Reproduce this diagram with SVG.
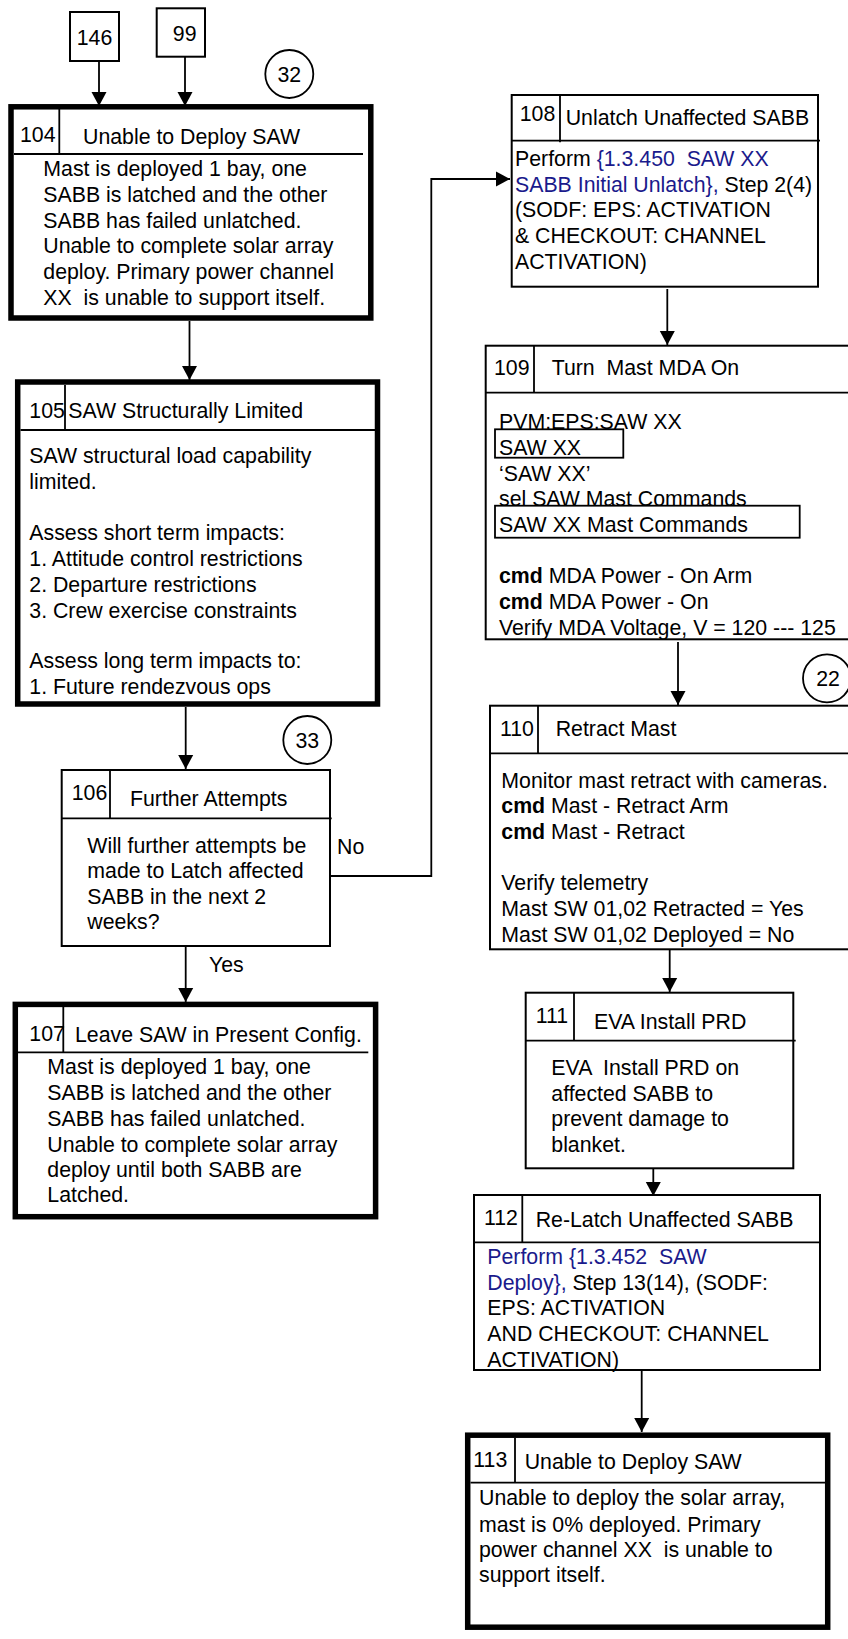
<svg xmlns="http://www.w3.org/2000/svg" width="848" height="1639" viewBox="0 0 848 1639">
<style>
text{font-family:"Liberation Sans",Arial,sans-serif;font-size:21.3px;fill:#000;white-space:pre}
.b{font-weight:bold}
.blue{fill:#1a1a8c}
.thin{fill:#fff;stroke:#000;stroke-width:2}
.thick{fill:#fff;stroke:#000;stroke-width:5.5}
.ln{fill:none;stroke:#000;stroke-width:1.8}
.con{fill:none;stroke:#000;stroke-width:1.8}
</style>
<defs>
<marker id="ah" markerWidth="16" markerHeight="16" refX="14" refY="8" orient="auto" markerUnits="userSpaceOnUse">
<path d="M0,0.5 L14,8 L0,15.5 z" fill="#000"/>
</marker>
</defs>
<rect width="848" height="1639" fill="#fff"/>

<g id="connectors">
<path class="con" d="M99,61 V106" marker-end="url(#ah)"/>
<path class="con" d="M185,57 V106" marker-end="url(#ah)"/>
<path class="con" d="M189.5,321 V380" marker-end="url(#ah)"/>
<path class="con" d="M185.7,707 V769" marker-end="url(#ah)"/>
<path class="con" d="M185.7,946 V1002" marker-end="url(#ah)"/>
<path class="con" d="M330,876 H431.3 V179 H510" marker-end="url(#ah)"/>
<path class="con" d="M667.3,289 V345" marker-end="url(#ah)"/>
<path class="con" d="M678,642 V705" marker-end="url(#ah)"/>
<path class="con" d="M669.7,950 V992" marker-end="url(#ah)"/>
<path class="con" d="M653.3,1169 V1196" marker-end="url(#ah)"/>
<path class="con" d="M641.7,1371 V1432" marker-end="url(#ah)"/>
<text x="337" y="854">No</text>
<text x="209" y="972">Yes</text>
</g>

<g id="ref146">
<rect class="thin" x="70" y="12" width="49" height="49"/>
<text x="94.5" y="45" text-anchor="middle">146</text>
</g>
<g id="ref99">
<rect class="thin" x="156.7" y="8.3" width="48.3" height="48.4"/>
<text x="184.7" y="40.7" text-anchor="middle">99</text>
</g>
<g id="c32">
<circle cx="289.3" cy="74" r="24" fill="#fff" stroke="#000" stroke-width="1.8"/>
<text x="289.3" y="81.5" text-anchor="middle">32</text>
</g>
<g id="c33">
<circle cx="307.3" cy="740" r="24" fill="#fff" stroke="#000" stroke-width="1.8"/>
<text x="307.3" y="747.5" text-anchor="middle">33</text>
</g>
<g id="c22">
<circle cx="827" cy="678.3" r="24" fill="#fff" stroke="#000" stroke-width="1.8"/>
<text x="828" y="685.5" text-anchor="middle">22</text>
</g>

<g id="n104">
<rect class="thick" x="11" y="106.8" width="359.8" height="211.2"/>
<path class="ln" d="M59.3,109 V154 M14,154 H363"/>
<text x="20" y="141.7">104</text>
<text x="83" y="144">Unable to Deploy SAW</text>
<text x="43.3" y="176">Mast is deployed 1 bay, one</text>
<text x="43.3" y="201.7">SABB is latched and the other</text>
<text x="43.3" y="227.5">SABB has failed unlatched.</text>
<text x="43.3" y="253.3">Unable to complete solar array</text>
<text x="43.3" y="279.2">deploy. Primary power channel</text>
<text x="43.3" y="305">XX  is unable to support itself.</text>
</g>

<g id="n105">
<rect class="thick" x="17.7" y="382" width="359.8" height="322"/>
<path class="ln" d="M65,385 V430 M20.5,430 H375"/>
<text x="29.3" y="417.7">105</text>
<text x="68.3" y="417.7">SAW Structurally Limited</text>
<text x="29.3" y="463.3">SAW structural load capability</text>
<text x="29.3" y="489">limited.</text>
<text x="29.3" y="540.4">Assess short term impacts:</text>
<text x="29.3" y="566.1">1. Attitude control restrictions</text>
<text x="29.3" y="591.8">2. Departure restrictions</text>
<text x="29.3" y="617.5">3. Crew exercise constraints</text>
<text x="29.3" y="668.2">Assess long term impacts to:</text>
<text x="29.3" y="693.5">1. Future rendezvous ops</text>
</g>

<g id="n106">
<rect class="thin" x="61.7" y="770" width="268.3" height="176"/>
<path class="ln" d="M110,770 V818.3 M61.7,818.3 H331.7"/>
<text x="71.7" y="800">106</text>
<text x="130" y="805.7">Further Attempts</text>
<text x="87.3" y="852.7">Will further attempts be</text>
<text x="87.3" y="878.3">made to Latch affected</text>
<text x="87.3" y="904">SABB in the next 2</text>
<text x="87.3" y="929.3">weeks?</text>
</g>

<g id="n107">
<rect class="thick" x="15.3" y="1004.4" width="360.3" height="212.3"/>
<path class="ln" d="M63.3,1007 V1052.3 M18,1052.3 H368.3"/>
<text x="29.3" y="1040.7">107</text>
<text x="75" y="1042.3">Leave SAW in Present Config.</text>
<text x="47.3" y="1074.3">Mast is deployed 1 bay, one</text>
<text x="47.3" y="1100">SABB is latched and the other</text>
<text x="47.3" y="1125.7">SABB has failed unlatched.</text>
<text x="47.3" y="1151.5">Unable to complete solar array</text>
<text x="47.3" y="1176.9">deploy until both SABB are</text>
<text x="47.3" y="1202.3">Latched.</text>
</g>

<g id="n108">
<rect class="thin" x="511.7" y="95" width="306.3" height="191.7"/>
<path class="ln" d="M560,95 V142.3 M511.7,140.7 H820"/>
<text x="519.7" y="120.7">108</text>
<text x="565.7" y="125">Unlatch Unaffected SABB</text>
<text x="515" y="166">Perform <tspan class="blue">{1.3.450  SAW XX</tspan></text>
<text x="515" y="191.7"><tspan class="blue">SABB Initial Unlatch},</tspan> Step 2(4)</text>
<text x="515" y="217.3">(SODF: EPS: ACTIVATION</text>
<text x="515" y="243.3">&amp; CHECKOUT: CHANNEL</text>
<text x="515" y="269.3">ACTIVATION)</text>
</g>

<g id="n109">
<rect class="thin" x="485.7" y="345.7" width="370" height="293.6"/>
<path class="ln" d="M534,345.7 V392.7 M485.7,392.7 H850"/>
<text x="494" y="375">109</text>
<text x="551.7" y="375">Turn  Mast MDA On</text>
<text x="499" y="429.3">PVM:EPS:SAW XX</text>
<rect x="495" y="429.3" width="128.3" height="28.4" fill="none" stroke="#000" stroke-width="1.8"/>
<text x="499" y="455">SAW XX</text>
<text x="499" y="480.7">‘SAW XX’</text>
<text x="499" y="506">sel SAW Mast Commands</text>
<rect x="495" y="505.7" width="304.7" height="32" fill="#fff" stroke="#000" stroke-width="1.8"/>
<text x="499" y="532.3">SAW XX Mast Commands</text>
<text x="499" y="583.3"><tspan class="b">cmd</tspan> MDA Power - On Arm</text>
<text x="499" y="609.3"><tspan class="b">cmd</tspan> MDA Power - On</text>
<text x="499" y="635">Verify MDA Voltage, V = 120 --- 125</text>
</g>

<g id="n110">
<rect class="thin" x="490" y="705.7" width="370" height="243.6"/>
<path class="ln" d="M538,705.7 V753.3 M490,753.3 H850"/>
<text x="500" y="736">110</text>
<text x="555.7" y="736">Retract Mast</text>
<text x="501.3" y="787.7">Monitor mast retract with cameras.</text>
<text x="501.3" y="813.3"><tspan class="b">cmd</tspan> Mast - Retract Arm</text>
<text x="501.3" y="839.3"><tspan class="b">cmd</tspan> Mast - Retract</text>
<text x="501.3" y="890">Verify telemetry</text>
<text x="501.3" y="916">Mast SW 01,02 Retracted = Yes</text>
<text x="501.3" y="941.7">Mast SW 01,02 Deployed = No</text>
</g>

<g id="n111">
<rect class="thin" x="525.7" y="992.7" width="267.6" height="175.6"/>
<path class="ln" d="M574,992.7 V1040.7 M525.7,1040.7 H795.7"/>
<text x="535.7" y="1023.3">111</text>
<text x="594" y="1029">EVA Install PRD</text>
<text x="551.3" y="1075">EVA  Install PRD on</text>
<text x="551.3" y="1100.7">affected SABB to</text>
<text x="551.3" y="1126">prevent damage to</text>
<text x="551.3" y="1151.7">blanket.</text>
</g>

<g id="n112">
<rect class="thin" x="474" y="1195" width="346" height="175"/>
<path class="ln" d="M522.3,1195 V1242.3 M474,1242.3 H820"/>
<text x="484" y="1225">112</text>
<text x="535.7" y="1226.7">Re-Latch Unaffected SABB</text>
<text x="487.3" y="1264" class="blue">Perform {1.3.452  SAW</text>
<text x="487.3" y="1290"><tspan class="blue">Deploy},</tspan> Step 13(14), (SODF:</text>
<text x="487.3" y="1315.3">EPS: ACTIVATION</text>
<text x="487.3" y="1340.7">AND CHECKOUT: CHANNEL</text>
<text x="487.3" y="1366.7">ACTIVATION)</text>
</g>

<g id="n113">
<rect class="thick" x="467.7" y="1435.2" width="360" height="192"/>
<path class="ln" d="M515,1438 V1482.7 M470.5,1482.7 H825"/>
<text x="473.3" y="1466.7">113</text>
<text x="524.7" y="1469.3">Unable to Deploy SAW</text>
<text x="479" y="1505">Unable to deploy the solar array,</text>
<text x="479" y="1531.7">mast is 0% deployed. Primary</text>
<text x="479" y="1556.7">power channel XX  is unable to</text>
<text x="479" y="1582.3">support itself.</text>
</g>
</svg>
